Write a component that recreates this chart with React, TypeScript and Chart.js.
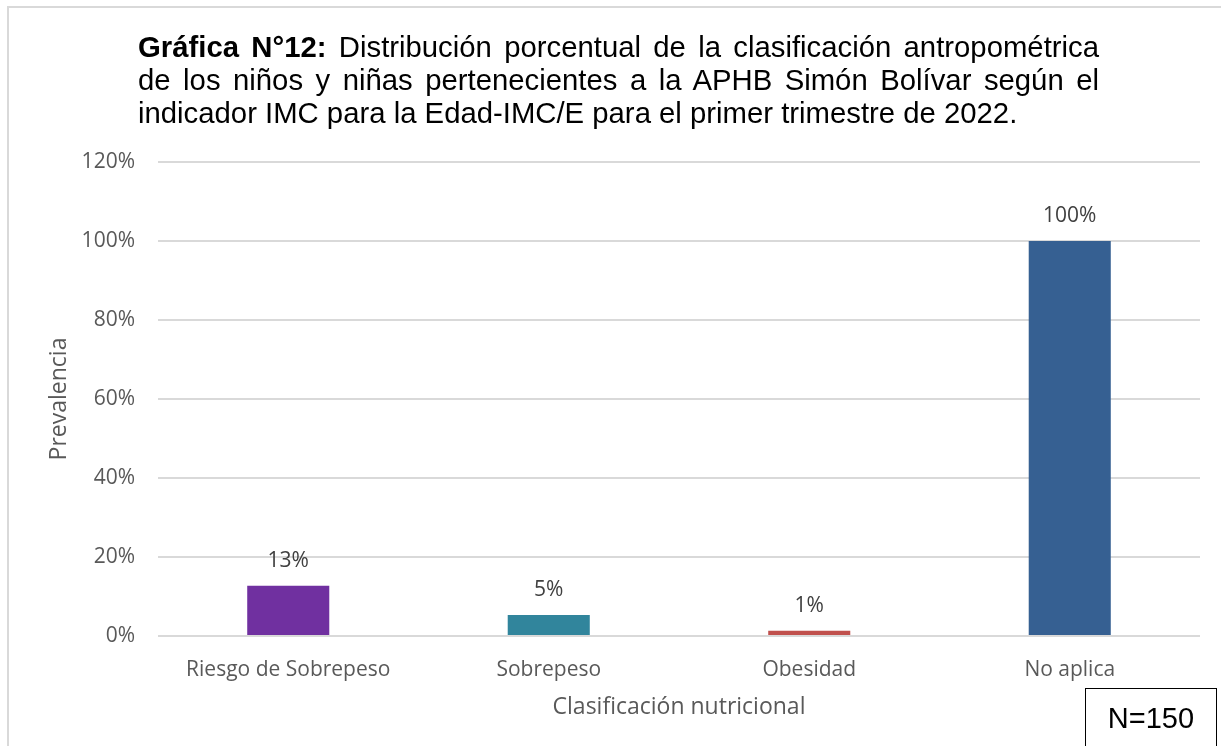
import React, { useEffect, useRef } from "react";
import { Chart, registerables } from "chart.js";

Chart.register(...registerables);

const categories = ["Riesgo de Sobrepeso", "Sobrepeso", "Obesidad", "No aplica"];
const values = [12.7, 5.3, 1.3, 100];
const valueLabels = ["13%", "5%", "1%", "100%"];
const barColors = ["#7030A0", "#31859C", "#C0504D", "#366092"];
const yTicks = [0, 20, 40, 60, 80, 100, 120];

const titleBold = "Gráfica N°12:";
const titleLine1 = " Distribución porcentual de la clasificación antropométrica";
const titleLine2 = "de los niños y niñas pertenecientes a la APHB Simón Bolívar según el";
const titleLine3 = "indicador IMC para la Edad-IMC/E para el primer trimestre de 2022.";
const xTitle = "Clasificación nutricional";
const yTitle = "Prevalencia";
const nLabel = "N=150";

const TICK_FONT = "'Open Sans', sans-serif";

const valueLabelPlugin = {
  id: "valueLabels",
  afterDatasetsDraw(chart: any) {
    const ctx = chart.ctx;
    const meta = chart.getDatasetMeta(0);
    ctx.save();
    ctx.font = `21px ${TICK_FONT}`;
    ctx.fillStyle = "#404040";
    ctx.textAlign = "center";
    ctx.textBaseline = "middle";
    meta.data.forEach((el: any, i: number) => {
      ctx.fillText(valueLabels[i], el.x, el.y - 25);
    });
    ctx.restore();
  },
};

export default function App() {
  const canvasRef = useRef<HTMLCanvasElement | null>(null);

  useEffect(() => {
    if (!canvasRef.current) return;
    const chart = new Chart(canvasRef.current, {
      type: "bar",
      data: {
        labels: categories,
        datasets: [
          {
            data: values,
            backgroundColor: barColors,
            borderWidth: 0,
            barPercentage: 0.315,
            categoryPercentage: 1,
          },
        ],
      },
      options: {
        responsive: false,
        animation: false,
        layout: { padding: { left: 0, right: 21, top: 162, bottom: 0 } },
        plugins: {
          legend: { display: false },
          tooltip: { enabled: false },
          title: { display: false },
        },
        scales: {
          x: {
            grid: { display: false },
            border: { display: false },
            ticks: {
              color: "#595959",
              font: { family: TICK_FONT, size: 21 },
              padding: 13,
              maxRotation: 0,
              autoSkip: false,
            },
            title: {
              display: true,
              text: xTitle,
              color: "#595959",
              font: { family: TICK_FONT, size: 23 },
              padding: { top: 0, bottom: 25 },
            },
            afterFit(scale: any) {
              scale.height = 110;
            },
          },
          y: {
            min: 0,
            max: 120,
            afterBuildTicks(scale: any) {
              scale.ticks = yTicks.map((v) => ({ value: v }));
            },
            grid: { color: "#d9d9d9", lineWidth: 2, drawTicks: false },
            border: { display: false },
            ticks: {
              color: "#595959",
              font: { family: TICK_FONT, size: 21 },
              padding: 23,
              callback: (v: any) => `${v}%`,
            },
            title: {
              display: true,
              text: yTitle,
              color: "#595959",
              font: { family: TICK_FONT, size: 23 },
              padding: { top: 46, bottom: 0 },
            },
            afterFit(scale: any) {
              scale.width = 158;
            },
          },
        },
      },
      plugins: [valueLabelPlugin],
    });
    return () => chart.destroy();
  }, []);

  const titleFont = "'Liberation Sans', Arial, sans-serif";
  const lineStyle: React.CSSProperties = {
    height: 33,
    lineHeight: "33px",
    whiteSpace: "nowrap",
  };

  return (
    <div
      style={{
        position: "absolute",
        left: 0,
        top: 0,
        width: 1221,
        height: 746,
        overflow: "hidden",
        background: "#ffffff",
      }}
    >
      <div
        style={{
          position: "absolute",
          left: 7,
          top: 6,
          width: 1230,
          height: 760,
          borderTop: "2px solid #d9d9d9",
          borderLeft: "2px solid #d9d9d9",
        }}
      />
      <canvas
        ref={canvasRef}
        width={1221}
        height={746}
        style={{ position: "absolute", left: 0, top: 0, width: 1221, height: 746 }}
      />
      <div
        style={{
          position: "absolute",
          left: 138,
          top: 30,
          width: 961,
          fontFamily: titleFont,
          fontSize: 29.3,
          color: "#000",
        }}
      >
        <div style={{ ...lineStyle, textAlign: "justify", textAlignLast: "justify" }}>
          <b>{titleBold}</b>
          {titleLine1}
        </div>
        <div style={{ ...lineStyle, textAlign: "justify", textAlignLast: "justify" }}>{titleLine2}</div>
        <div style={{ ...lineStyle, textAlign: "left" }}>{titleLine3}</div>
      </div>
      <div
        style={{
          position: "absolute",
          left: 1085,
          top: 688,
          width: 132,
          height: 80,
          border: "1.5px solid #000",
          boxSizing: "border-box",
          fontFamily: titleFont,
          fontSize: 29,
          color: "#000",
          textAlign: "center",
          lineHeight: "58px",
        }}
      >
        {nLabel}
      </div>
    </div>
  );
}
